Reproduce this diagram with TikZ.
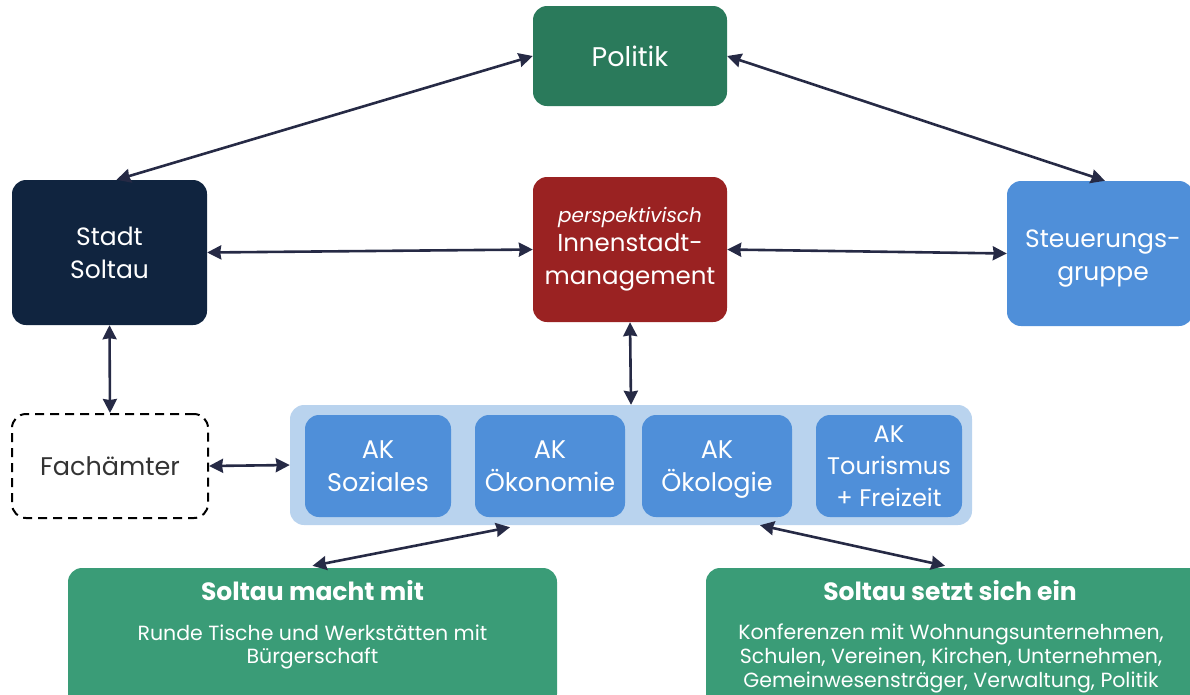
\documentclass[tikz,border=0pt]{standalone}
\usepackage{fontspec}
\setmainfont{Poppins}
\usetikzlibrary{arrows.meta,calc}
\definecolor{polgreen}{HTML}{2A7A5B}
\definecolor{navy}{HTML}{10243F}
\definecolor{darkred}{HTML}{9A2222}
\definecolor{akblue}{HTML}{4F8FD9}
\definecolor{lightblue}{HTML}{B9D3EE}
\definecolor{botgreen}{HTML}{3A9C77}
\definecolor{arrowc}{HTML}{262A45}
\tikzset{
  box/.style={rounded corners=14pt, inner sep=0pt, align=center, text=white,
    font=\fontsize{25}{33}\selectfont},
  akbox/.style={box, fill=akblue, minimum width=148pt, minimum height=102pt,
    font=\fontsize{25.5}{33}\selectfont},
  tip/.tip={Stealth[inset=1pt,length=14pt,width=14pt]},
  link/.style={arrowc, line width=2.6pt, tip-tip},
}
\begin{document}
\begin{tikzpicture}[x=1pt,y=-1pt]
\useasboundingbox (0,0) rectangle (1190,694);
\node[box, fill=polgreen, minimum width=194pt, minimum height=100pt, font=\fontsize{27}{33}\selectfont] (pol) at (630,56) {Politik};
\node[box, fill=navy, minimum width=195pt, minimum height=145pt] (stadt) at (109.5,252.5) {Stadt\\Soltau};
\node[box, fill=darkred, minimum width=194pt, minimum height=145pt, font=\fontsize{24.5}{33}\selectfont] (inn) at (630,249.5)
  {{\fontsize{20}{22}\selectfont\itshape perspektivisch}\\[-4pt]Innenstadt-\\management};
\node[box, fill=akblue, minimum width=186pt, minimum height=145pt] (steu) at (1100,253.5) {};
\node[box] (steut) at (1103,258.5) {Steuerungs-\\gruppe};
\node[box, draw=black, dashed, line width=2pt, dash pattern=on 9pt off 6pt, text=black!80,
  minimum width=196pt, minimum height=104pt, font=\fontsize{25.5}{30}\selectfont] (fach) at (110,466) {Fachämter};
\node[rounded corners=14pt, fill=lightblue, minimum width=682pt, minimum height=120pt, inner sep=0pt] (cont) at (631,465) {};
\node[akbox, minimum width=146pt] (ak1) at (378,466) {AK\\Soziales};
\node[akbox, minimum width=150pt] (ak2) at (550,466) {AK\\Ökonomie};
\node[akbox, minimum width=150pt] (ak3) at (717,466) {AK\\Ökolo\smash{g}ie};
\node[akbox, minimum width=146pt, font=\fontsize{24}{32}\selectfont] (ak4) at (889,466) {AK\\Tourismus\\+ Freizeit};
\node[rounded corners=14pt, fill=botgreen, minimum width=489pt, minimum height=140pt, inner sep=0pt] (mit) at (312.5,638) {};
\node[rounded corners=14pt, fill=botgreen, minimum width=500pt, minimum height=140pt, inner sep=0pt] (ein) at (956,638) {};
\node[text=white, font=\fontsize{25}{26}\selectfont\bfseries] (mitt) at (312.5,591) {Soltau macht mit};
\node[text=white, align=center, font=\fontsize{20.5}{23}\selectfont] (mits) at (312.5,647) {Runde Tische und Werkstätten mit\\Bürgerschaft};
\node[text=white, font=\fontsize{25}{26}\selectfont\bfseries] (eint) at (950,591) {Soltau setzt sich ein};
\node[text=white, align=center, font=\fontsize{20.5}{24}\selectfont] (eins) at (951,658) {Konferenzen mit Wohnungsunternehmen,\\Schulen, Vereinen, Kirchen, Unternehmen,\\Gemeinwesensträger, Verwaltung, Politik};
% connectors
\draw[link] (pol.west) -- ($(stadt.north)+(7,0)$);
\draw[link] (pol.east) -- ($(steu.north)+(5,0)$);
\draw[link] (stadt.east) -- (inn.west);
\draw[link] (inn.east) -- (steu.west);
\draw[link] (stadt.south) -- (fach.north);
\draw[link] (fach.east) -- (cont.west);
\draw[link] (inn.south) -- (cont.north);
\draw[link] ($(mit.north)+(0,-2)$) -- ($(cont.south)+(-121,2)$);
\draw[link] ($(ein.north)+(-11,-2)$) -- ($(cont.south)+(129,0)$);
\end{tikzpicture}
\end{document}
